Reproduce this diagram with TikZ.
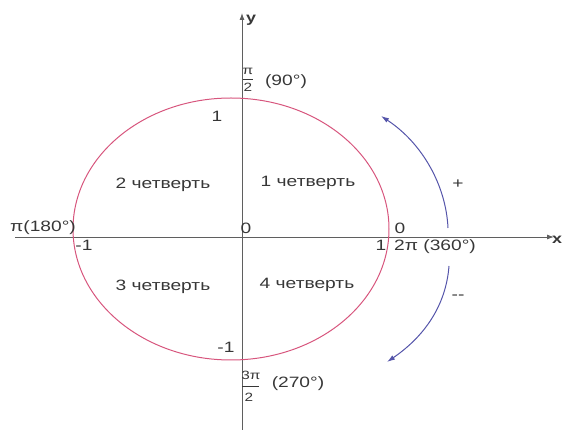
\documentclass[tikz,border=0pt]{standalone}
\usepackage{fontspec}
\usepackage{graphicx}
\setmainfont{Liberation Sans}
\usetikzlibrary{arrows.meta}
\definecolor{axisgray}{RGB}{95,95,95}
\definecolor{txtgray}{RGB}{55,55,55}
\definecolor{ringred}{RGB}{215,85,125}
\definecolor{arcblue}{RGB}{85,85,170}
\newcommand{\wide}[1]{\scalebox{1.28}[1]{#1}}
\begin{document}
\begin{tikzpicture}[x=1pt,y=-1pt,
  axis/.style={draw=axisgray,line width=0.9pt,-{Latex[length=7pt,width=5pt]}},
  ring/.style={draw=ringred,line width=1pt},
  turn/.style={draw=arcblue,line width=1pt,-{Latex[length=8pt,width=5pt]}},
  lbl/.style={text=txtgray,font=\fontsize{15}{18}\selectfont,inner sep=0pt},
  frac/.style={text=txtgray,font=\fontsize{12}{12}\selectfont,inner sep=0pt}]
\useasboundingbox (0,0) rectangle (563,430);
% axes
\coordinate (xs) at (15,237);
\coordinate (xe) at (554,237);
\coordinate (ys) at (242,430);
\coordinate (ye) at (242,13);
\draw[axis] (xs) -- (xe);
\draw[axis] (ys) -- (ye);
\node[lbl,font=\bfseries\fontsize{14}{16}\selectfont] (ylab) at (251,20) {\wide{y}};
\node[lbl,font=\bfseries\fontsize{14}{16}\selectfont] (xlab) at (557,240) {\wide{x}};
% unit circle (ellipse)
\coordinate (c) at (231,229);
\draw[ring] (c) ellipse [x radius=158pt, y radius=131pt];
% direction arcs
\coordinate (a1) at (448,228);
\coordinate (a2) at (381,116);
\coordinate (b1) at (449,266);
\coordinate (b2) at (387,362);
\draw[turn] (a1) .. controls (446,185) and (422,143) .. (a2);
\draw[turn] (b1) .. controls (446,305) and (425,336) .. (b2);
\node[lbl] (plus) at (458,184) {\wide{+}};
\node[lbl] (minus) at (458,297) {\wide{-{}-}};
% quarter labels
\node[lbl] (q2) at (163,185) {\wide{2 четверть}};
\node[lbl] (q1) at (308,183) {\wide{1 четверть}};
\node[lbl] (q3) at (163,287) {\wide{3 четверть}};
\node[lbl] (q4) at (307,285) {\wide{4 четверть}};
% tick labels
\node[lbl] (o) at (246,228) {\wide{0}};
\node[lbl] (r0) at (400,228) {\wide{0}};
\node[lbl] (t1) at (217,116) {\wide{1}};
\node[lbl] (lm1) at (84,245) {\wide{-1}};
\node[lbl] (r1) at (381,245) {\wide{1}};
\node[lbl] (bm1) at (226,347) {\wide{-1}};
\node[lbl] (pi) at (43,228) {\wide{π(180°)}};
\node[lbl] (tpi) at (435,247) {\wide{2π (360°)}};
% pi/2
\node[frac] (p2n) at (248,71) {\wide{π}};
\node[frac] (p2d) at (248,87) {\wide{2}};
\coordinate (p2l) at (243,79);
\draw[txtgray,line width=0.6pt] (p2l) -- ++(10,0);
\node[lbl] (p2t) at (286,82) {\wide{(90°)}};
% 3pi/2
\node[frac] (p3n) at (251,375) {\wide{3π}};
\node[frac] (p3d) at (249,397) {\wide{2}};
\coordinate (p3l) at (242,386);
\draw[txtgray,line width=0.6pt] (p3l) -- ++(17,0);
\node[lbl] (p3t) at (298,384) {\wide{(270°)}};
\end{tikzpicture}
\end{document}
